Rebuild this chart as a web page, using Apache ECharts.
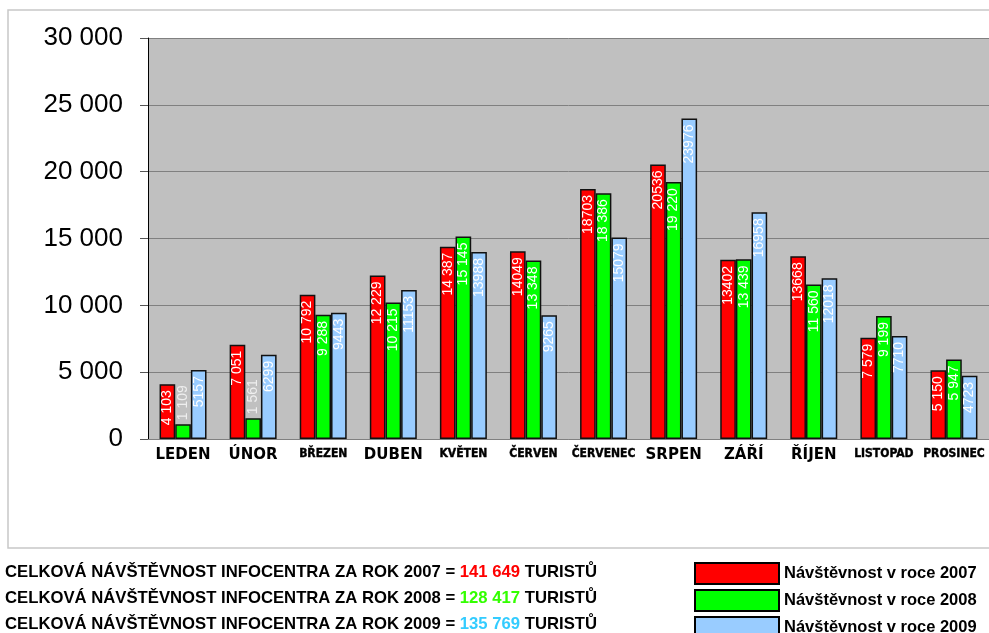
<!DOCTYPE html>
<html>
<head>
<meta charset="utf-8">
<script src="https://cdn.jsdelivr.net/npm/echarts@6/dist/echarts.min.js"></script>
<style>
  html, body { margin: 0; padding: 0; background: #ffffff; }
  #chart { width: 989px; height: 633px; }
</style>
</head>
<body>
<div id="chart"></div>
<script>
// Months of the year
const months = ['LEDEN', 'ÚNOR', 'BŘEZEN', 'DUBEN', 'KVĚTEN', 'ČERVEN', 'ČERVENEC', 'SRPEN', 'ZÁŘÍ', 'ŘÍJEN', 'LISTOPAD', 'PROSINEC'];

// Monthly visitors per year
const visits2007 = [4103, 7051, 10792, 12229, 14387, 14049, 18703, 20536, 13402, 13668, 7579, 5150];
const visits2008 = [1109, 1561, 9288, 10215, 15145, 13348, 18386, 19220, 13439, 11560, 9199, 5947];
const visits2009 = [5157, 6299, 9443, 11153, 13988, 9265, 15079, 23976, 16958, 12018, 7710, 4723];

// Months whose 2007 label is printed without a thousands separator
const plain2007 = [5, 6, 7, 8, 9];

const years = ['2007', '2008', '2009'];
const yTicks = [0, 5000, 10000, 15000, 20000, 25000, 30000];

const groupThousands = v => String(v).replace(/\B(?=(\d{3})+(?!\d))/g, ' ');
const sum = arr => arr.reduce((a, b) => a + b, 0);

// Labels drawn in a condensed face
const condensed = new Set(['BŘEZEN', 'KVĚTEN', 'ČERVEN', 'ČERVENEC', 'LISTOPAD', 'PROSINEC']);

const colors = ['#ff0000', '#00ff00', '#99ccff'];
const totalColors = ['#ff0000', '#33ff00', '#33ccff'];
const SANS = 'Liberation Sans, Arial, sans-serif';

function makeSeries(name, values, color, fmt) {
  return {
    name: 'Návštěvnost v roce ' + name,
    type: 'bar',
    barGap: '0%',
    barCategoryGap: '33%',
    itemStyle: { color: color, borderColor: '#111111', borderWidth: 1.5 },
    data: values.map((v, i) => {
      const short = v < 3000;
      return {
        value: v,
        label: {
          show: true,
          position: short ? 'top' : 'insideTop',
          rotate: 90,
          align: short ? 'left' : 'right',
          verticalAlign: 'middle',
          distance: short ? 4 : 6,
          color: short ? '#eeeeee' : '#ffffff',
          fontFamily: SANS,
          fontSize: 14,
          formatter: () => fmt(v, i)
        }
      };
    })
  };
}

const chart = echarts.init(document.getElementById('chart'), null, { renderer: 'canvas' });

const totalsText = (year, values, idx) => ({
  type: 'text',
  left: 5,
  top: 564 + idx * 26,
  style: {
    text: '{b|CELKOVÁ NÁVŠTĚVNOST INFOCENTRA ZA ROK ' + year + ' = }{n|' + groupThousands(sum(values)) + '}{b| TURISTŮ}',
    rich: {
      b: { fontFamily: SANS, fontWeight: 'bold', fontSize: 16.7, fill: '#000000' },
      n: { fontFamily: SANS, fontWeight: 'bold', fontSize: 16.7, fill: totalColors[idx] }
    }
  }
});

chart.setOption({
  animation: false,
  backgroundColor: '#ffffff',
  grid: {
    show: true,
    left: 148,
    top: 38,
    width: 843,
    bottom: 194,
    backgroundColor: '#c0c0c0',
    borderWidth: 0
  },
  legend: {
    orient: 'vertical',
    left: 694,
    top: 562,
    height: 120,
    padding: 0,
    itemWidth: 84,
    itemHeight: 21,
    itemGap: 4,
    icon: 'rect',
    itemStyle: { borderColor: '#000000', borderWidth: 2 },
    textStyle: { fontFamily: SANS, fontWeight: 'bold', fontSize: 16.5, color: '#000000' },
    data: years.map(y => 'Návštěvnost v roce ' + y)
  },
  xAxis: {
    type: 'category',
    data: months,
    axisLine: { lineStyle: { color: '#808080', width: 1 } },
    axisTick: { show: false },
    axisLabel: {
      interval: 0,
      margin: 9,
      formatter: m => (condensed.has(m) ? '{n|' + m + '}' : '{w|' + m + '}'),
      rich: {
        w: { fontFamily: 'DejaVu Sans', fontWeight: 'bold', fontSize: 15, color: '#000000' },
        n: {
          fontFamily: 'DejaVu Sans Condensed, Liberation Sans',
          fontWeight: 'bold',
          fontSize: 12,
          color: '#000000',
          textBorderColor: '#000000',
          textBorderWidth: 0.4
        }
      }
    }
  },
  yAxis: {
    type: 'value',
    min: yTicks[0],
    max: yTicks[yTicks.length - 1],
    interval: yTicks[1] - yTicks[0],
    axisLine: { show: true, lineStyle: { color: '#000000', width: 1 } },
    axisTick: { show: true, length: 8, lineStyle: { color: '#555555' } },
    splitLine: { lineStyle: { color: '#808080', width: 1 } },
    axisLabel: {
      margin: 25,
      color: '#000000',
      fontFamily: SANS,
      fontSize: 26,
      formatter: v => groupThousands(v)
    }
  },
  series: [
    makeSeries('2007', visits2007, colors[0], (v, i) => (plain2007.includes(i) ? String(v) : groupThousands(v))),
    makeSeries('2008', visits2008, colors[1], v => groupThousands(v)),
    makeSeries('2009', visits2009, colors[2], v => String(v))
  ],
  graphic: [
    {
      type: 'rect',
      shape: { x: 8, y: 10, width: 990, height: 538 },
      style: { fill: 'none', stroke: '#c8c8c8', lineWidth: 1.5 },
      silent: true
    },
    totalsText('2007', visits2007, 0),
    totalsText('2008', visits2008, 1),
    totalsText('2009', visits2009, 2)
  ]
});
</script>
</body>
</html>
